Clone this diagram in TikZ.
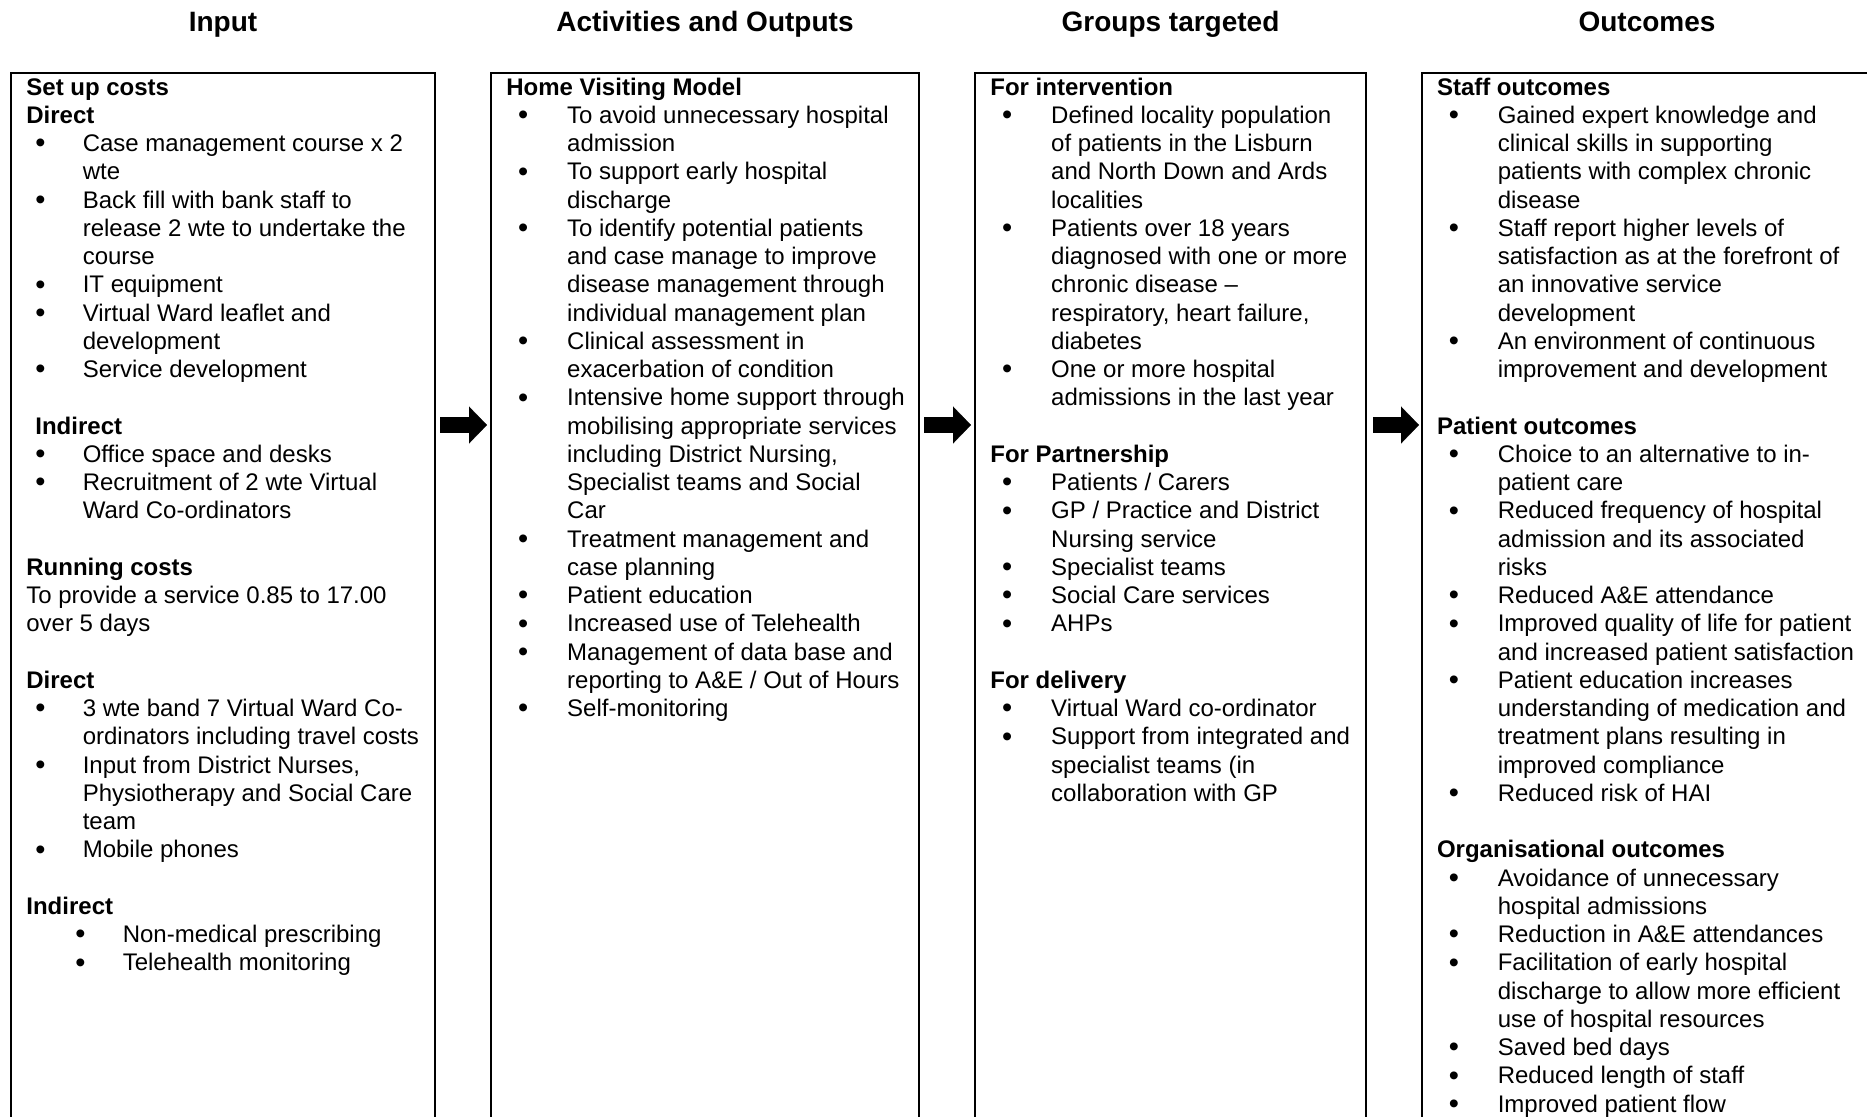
\documentclass[tikz,border=0pt]{standalone}
\usepackage{fontspec}
\setmainfont{Liberation Sans}
\usepackage{tikz}
\usetikzlibrary{arrows.meta, positioning}

\newlength{\txtoff}
\newlength{\buloff}
\setlength{\txtoff}{30.4pt}
\setlength{\buloff}{5.9pt}
\newcommand{\bl}{\makebox[\txtoff][l]{\hspace*{\buloff}\raisebox{-0.7pt}{\fontsize{14.5}{14}\selectfont\textbullet}}}
\newcommand{\cl}{\hspace*{\txtoff}}

\begin{document}
\begin{tikzpicture}[
    x=1pt, y=1pt,
    colbox/.style={draw, line width=1pt, anchor=north west, minimum height=560pt, inner sep=0pt, outer sep=0pt},
    coltitle/.style={font=\fontsize{14}{16}\selectfont\bfseries, inner sep=0pt},
    listtext/.style={anchor=base west, inner sep=0pt, font=\fontsize{12}{14.125}\selectfont},
    blockarrow/.style={line width=8pt, -{Triangle[length=9pt, width=18.5pt, line width=0.1pt]}, shorten <=2.5pt, shorten >=2pt}
]

\useasboundingbox (0,0) rectangle (933.5,-558);
\clip (0,0) rectangle (933.5,-558);

% columns
\node[colbox, minimum width=212pt] (inbox) at (5.5,-36.5) {};
\node[colbox, minimum width=214pt, right=28pt of inbox.north east, anchor=north west] (actbox) {};
\node[colbox, minimum width=195.5pt, right=28pt of actbox.north east, anchor=north west] (grpbox) {};
\node[colbox, minimum width=225pt, right=28pt of grpbox.north east, anchor=north west] (outbox) {};

% headings
\node[coltitle, above=21pt of inbox.north, anchor=base] (intitle) {Input};
\node[coltitle, above=21pt of actbox.north, anchor=base] (acttitle) {Activities and Outputs};
\node[coltitle, above=21pt of grpbox.north, anchor=base] (grptitle) {Groups targeted};
\node[coltitle, above=21pt of outbox.north, anchor=base] (outtitle) {Outcomes};

% input
\node[listtext] (inlist) at ([xshift=7.5pt, yshift=-11pt]inbox.north west) {%
\setlength{\txtoff}{28.2pt}\setlength{\buloff}{4.5pt}%
\begin{tabular}[t]{@{}l@{}}
\textbf{Set up costs}\\
\textbf{Direct}\\
\bl Case management course x 2\\
\cl wte\\
\bl Back fill with bank staff to\\
\cl release 2 wte to undertake the\\
\cl course\\
\bl IT equipment\\
\bl Virtual Ward leaflet and\\
\cl development\\
\bl Service development\\
\\
\hspace*{4.5pt}\textbf{Indirect}\\
\bl Office space and desks\\
\bl Recruitment of 2 wte Virtual\\
\cl Ward Co-ordinators\\
\\
\textbf{Running costs}\\
To provide a service 0.85 to 17.00\\
over 5 days\\
\\
\textbf{Direct}\\
\bl 3 wte band 7 Virtual Ward Co-\\
\cl ordinators including travel costs\\
\bl Input from District Nurses,\\
\cl Physiotherapy and Social Care\\
\cl team\\
\bl Mobile phones\\
\\
\textbf{Indirect}\\
\hspace*{20pt}\bl Non-medical prescribing\\
\hspace*{20pt}\bl Telehealth monitoring
\end{tabular}};

% activities
\node[listtext] (actlist) at ([xshift=7.5pt, yshift=-11pt]actbox.north west) {%
\begin{tabular}[t]{@{}l@{}}
\textbf{Home Visiting Model}\\
\bl To avoid unnecessary hospital\\
\cl admission\\
\bl To support early hospital\\
\cl discharge\\
\bl To identify potential patients\\
\cl and case manage to improve\\
\cl disease management through\\
\cl individual management plan\\
\bl Clinical assessment in\\
\cl exacerbation of condition\\
\bl Intensive home support through\\
\cl mobilising appropriate services\\
\cl including District Nursing,\\
\cl Specialist teams and Social\\
\cl Car\\
\bl Treatment management and\\
\cl case planning\\
\bl Patient education\\
\bl Increased use of Telehealth\\
\bl Management of data base and\\
\cl reporting to A\&E / Out of Hours\\
\bl Self-monitoring
\end{tabular}};

% groups
\node[listtext] (grplist) at ([xshift=7.5pt, yshift=-11pt]grpbox.north west) {%
\begin{tabular}[t]{@{}l@{}}
\textbf{For intervention}\\
\bl Defined locality population\\
\cl of patients in the Lisburn\\
\cl and North Down and Ards\\
\cl localities\\
\bl Patients over 18 years\\
\cl diagnosed with one or more\\
\cl chronic disease --\\
\cl respiratory, heart failure,\\
\cl diabetes\\
\bl One or more hospital\\
\cl admissions in the last year\\
\\
\textbf{For Partnership}\\
\bl Patients / Carers\\
\bl GP / Practice and District\\
\cl Nursing service\\
\bl Specialist teams\\
\bl Social Care services\\
\bl AHPs\\
\\
\textbf{For delivery}\\
\bl Virtual Ward co-ordinator\\
\bl Support from integrated and\\
\cl specialist teams (in\\
\cl collaboration with GP
\end{tabular}};

% outcomes
\node[listtext] (outlist) at ([xshift=7.3pt, yshift=-11pt]outbox.north west) {%
\begin{tabular}[t]{@{}l@{}}
\textbf{Staff outcomes}\\
\bl Gained expert knowledge and\\
\cl clinical skills in supporting\\
\cl patients with complex chronic\\
\cl disease\\
\bl Staff report higher levels of\\
\cl satisfaction as at the forefront of\\
\cl an innovative service\\
\cl development\\
\bl An environment of continuous\\
\cl improvement and development\\
\\
\textbf{Patient outcomes}\\
\bl Choice to an alternative to in-\\
\cl patient care\\
\bl Reduced frequency of hospital\\
\cl admission and its associated\\
\cl risks\\
\bl Reduced A\&E attendance\\
\bl Improved quality of life for patient\\
\cl and increased patient satisfaction\\
\bl Patient education increases\\
\cl understanding of medication and\\
\cl treatment plans resulting in\\
\cl improved compliance\\
\bl Reduced risk of HAI\\
\\
\textbf{Organisational outcomes}\\
\bl Avoidance of unnecessary\\
\cl hospital admissions\\
\bl Reduction in A\&E attendances\\
\bl Facilitation of early hospital\\
\cl discharge to allow more efficient\\
\cl use of hospital resources\\
\bl Saved bed days\\
\bl Reduced length of staff\\
\bl Improved patient flow
\end{tabular}};

% block arrows
\coordinate (arrowrow) at (0,-212.5);
\draw[blockarrow] (inbox.east |- arrowrow) -- (actbox.west |- arrowrow);
\draw[blockarrow] (actbox.east |- arrowrow) -- (grpbox.west |- arrowrow);
\draw[blockarrow, shorten <=3.5pt, shorten >=1.5pt] (grpbox.east |- arrowrow) -- (outbox.west |- arrowrow);

\end{tikzpicture}
\end{document}
